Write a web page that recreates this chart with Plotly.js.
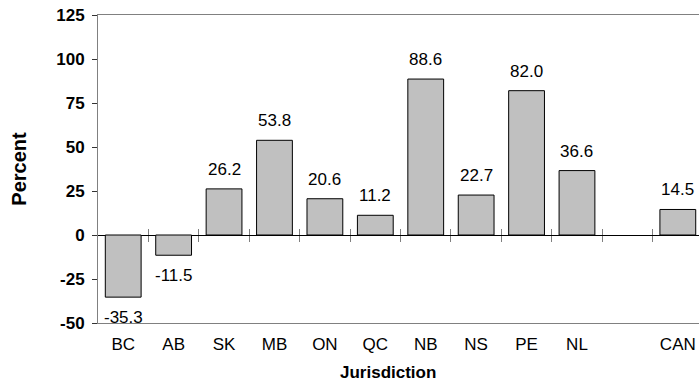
<!DOCTYPE html>
<html>
<head>
<meta charset="utf-8">
<script src="https://cdn.plot.ly/plotly-3.0.1.min.js"></script>
<style>html,body{margin:0;padding:0;background:#fff;}#chart{width:699px;height:385px;}</style>
</head>
<body>
<div id="chart"></div>
<script>
const categories = ['BC','AB','SK','MB','ON','QC','NB','NS','PE','NL',' ','CAN'];
const barCategories = ['BC','AB','SK','MB','ON','QC','NB','NS','PE','NL','CAN'];
const values = [-35.3,-11.5,26.2,53.8,20.6,11.2,88.6,22.7,82.0,36.6,14.5];
const labels = ['-35.3','-11.5','26.2','53.8','20.6','11.2','88.6','22.7','82.0','36.6','14.5'];
const yRange = [-50, 125];
const yTicks = [-50,-25,0,25,50,75,100,125];
const yTickText = ['-50','-25','0','25','50','75','100','125'];
const xRange = [-0.5, 11.42];
const boundaryTicks = categories.slice(0, -1).map((c, i) => i + 0.5);

const font = 'Liberation Sans, Arial, sans-serif';
const zeroPos = (0 - yRange[0]) / (yRange[1] - yRange[0]);

const trace = {
  type: 'bar',
  x: barCategories,
  y: values,
  marker: {color: '#c0c0c0', line: {color: '#000', width: 1}},
  hoverinfo: 'none'
};

// invisible carriers so the zero-line tick axes get drawn
const tickCarrierBelow = {
  type: 'scatter', mode: 'none', x: boundaryTicks, y: boundaryTicks.map(() => 0),
  xaxis: 'x2', yaxis: 'y', hoverinfo: 'none', showlegend: false
};
const tickCarrierAbove = {
  type: 'scatter', mode: 'none', x: boundaryTicks, y: boundaryTicks.map(() => 0),
  xaxis: 'x3', yaxis: 'y', hoverinfo: 'none', showlegend: false
};

const labelAnnotations = barCategories.map((c, i) => ({
  x: c, y: values[i], xref: 'x', yref: 'y',
  text: labels[i], showarrow: false,
  xanchor: 'center',
  yanchor: values[i] >= 0 ? 'bottom' : 'top',
  yshift: values[i] >= 0 ? 8 : -9,
  font: {family: font, size: 17, color: '#000'}
}));

const layout = {
  width: 699, height: 385,
  margin: {l: 98, r: 0, t: 15, b: 62},
  paper_bgcolor: '#fff', plot_bgcolor: '#fff',
  showlegend: false,
  bargap: 0.29,
  font: {family: font, color: '#000'},
  xaxis: {
    type: 'category',
    categoryorder: 'array',
    categoryarray: categories,
    range: xRange,
    showgrid: false, zeroline: false,
    showline: true, linecolor: '#808080', linewidth: 1, mirror: true,
    ticks: '', ticklabelstandoff: 6,
    tickfont: {family: font, size: 17, color: '#000'}
  },
  xaxis2: {
    type: 'linear',
    overlaying: 'x', anchor: 'free', position: zeroPos, side: 'bottom',
    range: xRange, showgrid: false, zeroline: false, showline: false,
    tickmode: 'array', tickvals: boundaryTicks, showticklabels: false,
    ticks: 'outside', ticklen: 6, tickcolor: '#808080', tickwidth: 1
  },
  xaxis3: {
    type: 'linear',
    overlaying: 'x', anchor: 'free', position: zeroPos, side: 'top',
    range: xRange, showgrid: false, zeroline: false, showline: false,
    tickmode: 'array', tickvals: boundaryTicks, showticklabels: false,
    ticks: 'outside', ticklen: 6, tickcolor: '#808080', tickwidth: 1
  },
  yaxis: {
    range: yRange,
    tickmode: 'array', tickvals: yTicks, ticktext: yTickText,
    showgrid: false,
    zeroline: true, zerolinecolor: '#000', zerolinewidth: 1,
    showline: true, linecolor: '#808080', linewidth: 1,
    ticks: 'outside', ticklen: 5, tickcolor: '#333', tickwidth: 1,
    ticklabelstandoff: 4,
    tickfont: {family: font, size: 17, weight: 'bold', color: '#000'},
    title: {text: 'Percent', font: {family: font, size: 20, weight: 'bold', color: '#000'}, standoff: 24}
  },
  annotations: labelAnnotations.concat([{
    text: 'Jurisdiction', xref: 'paper', yref: 'paper', x: 0.483, y: 0,
    xanchor: 'center', yanchor: 'top', yshift: -38, showarrow: false,
    font: {family: font, size: 17, weight: 'bold', color: '#000'}
  }])
};

Plotly.newPlot('chart', [trace, tickCarrierBelow, tickCarrierAbove], layout, {displayModeBar: false, staticPlot: true});
</script>
</body>
</html>
